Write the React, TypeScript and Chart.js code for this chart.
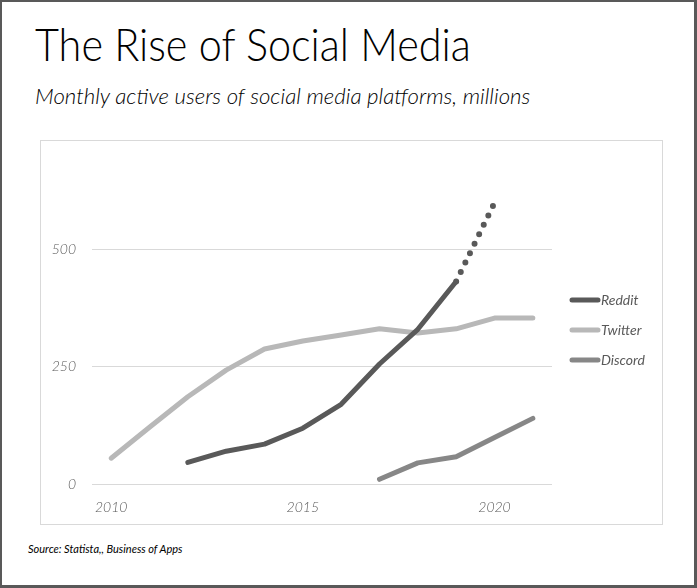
import React, { useEffect, useRef } from "react";
import { Chart, registerables } from "chart.js";

Chart.register(...registerables);

const years = ["2010", "2011", "2012", "2013", "2014", "2015", "2016", "2017", "2018", "2019", "2020", "2021"];
const labeledYears = ["2010", "2015", "2020"];
const reddit = [null, null, 46, 70, 85, 119, 170, 256, 330, 432, 600, null];
const twitter = [55, 121, 186, 243, 288, 305, 318, 331, 322, 331, 354, 354];
const discord = [null, null, null, null, null, null, null, 10, 45, 58, 99, 140];
const seriesNames = ["Reddit", "Twitter", "Discord"];
const seriesColors = ["#595959", "#b8b8b8", "#878787"];
const yTicks = [0, 250, 500];
const projectedFromIndex = 9; // Reddit 2019 -> 2020 shown dotted

const FONT = "Lato, 'Open Sans', sans-serif";

const sideLegend = {
  id: "sideLegend",
  afterDraw(chart: any) {
    const ctx = chart.ctx;
    const x0 = chart.chartArea.right + 18;
    chart.data.datasets.forEach((ds: any, i: number) => {
      const y = 160 + i * 30;
      ctx.save();
      ctx.strokeStyle = ds.borderColor;
      ctx.lineWidth = 5;
      ctx.lineCap = "round";
      ctx.beginPath();
      ctx.moveTo(x0 + 2, y);
      ctx.lineTo(x0 + 28, y);
      ctx.stroke();
      ctx.fillStyle = "#595959";
      ctx.font = `italic 400 14px ${FONT}`;
      ctx.textBaseline = "middle";
      ctx.textAlign = "left";
      ctx.fillText(ds.label, x0 + 31, y);
      ctx.restore();
    });
  },
};

export default function App() {
  const ref = useRef<HTMLCanvasElement | null>(null);

  useEffect(() => {
    if (!ref.current) return;
    const data = [reddit, twitter, discord];
    const chart = new Chart(ref.current, {
      type: "line",
      data: {
        labels: years,
        datasets: seriesNames.map((name, i) => ({
          label: name,
          data: data[i],
          borderColor: seriesColors[i],
          backgroundColor: seriesColors[i],
          borderWidth: 5,
          borderCapStyle: "round",
          borderJoinStyle: "round",
          pointRadius: 0,
          pointHoverRadius: 0,
          tension: 0,
          spanGaps: false,
          clip: false,
          segment:
            i === 0
              ? {
                  borderDash: (c: any) => (c.p0DataIndex >= projectedFromIndex ? [0, 10.5] : undefined),
                  borderWidth: (c: any) => (c.p0DataIndex >= projectedFromIndex ? 6 : undefined),
                }
              : undefined,
        })) as any,
      },
      options: {
        responsive: false,
        animation: false,
        layout: { padding: { top: 51, right: 110, bottom: 0, left: 0 } },
        plugins: { legend: { display: false }, tooltip: { enabled: false }, title: { display: false } },
        scales: {
          x: {
            type: "category",
            offset: true,
            grid: { display: false, drawTicks: false },
            border: { display: false },
            ticks: {
              autoSkip: false,
              maxRotation: 0,
              padding: 15,
              color: "#595959",
              font: { family: FONT, size: 14, style: "italic", weight: "300" },
              callback: (_v: any, idx: number) => (labeledYears.includes(years[idx]) ? years[idx] : ""),
            },
            afterFit: (s: any) => {
              s.height = 40;
            },
          },
          y: {
            min: 0,
            max: 625,
            grid: { color: "#d9d9d9", lineWidth: 1, drawTicks: false },
            border: { display: false },
            afterBuildTicks: (s: any) => {
              s.ticks = yTicks.map((v) => ({ value: v }));
            },
            ticks: {
              padding: 16,
              color: "#595959",
              font: { family: FONT, size: 14, style: "italic", weight: "300" },
            },
            afterFit: (s: any) => {
              s.width = 52;
            },
          },
        },
      },
      plugins: [sideLegend],
    });
    return () => chart.destroy();
  }, []);

  return (
    <div
      style={{
        position: "absolute",
        left: 0,
        top: 0,
        width: 697,
        height: 588,
        boxSizing: "border-box",
        borderStyle: "solid",
        borderColor: "#595959",
        borderWidth: "2px 3px 3px 2px",
        background: "#fff",
        overflow: "hidden",
      }}
    >
      <div
        style={{
          position: "absolute",
          left: 33,
          top: 14,
          fontFamily: FONT,
          fontSize: 46,
          fontWeight: 300,
          lineHeight: "56px",
          color: "#000",
          whiteSpace: "nowrap",
          transformOrigin: "left top",
          transform: "scaleX(0.9)",
        }}
      >
        The Rise of Social Media
      </div>
      <div
        style={{
          position: "absolute",
          left: 33,
          top: 80,
          fontFamily: FONT,
          fontSize: 22,
          fontWeight: 300,
          fontStyle: "italic",
          lineHeight: "28px",
          color: "#000",
          whiteSpace: "nowrap",
          transformOrigin: "left top",
          transform: "scaleX(1.01)",
        }}
      >
        Monthly active users of social media platforms, millions
      </div>
      <div
        style={{
          position: "absolute",
          left: 38,
          top: 138,
          width: 623,
          height: 385,
          boxSizing: "border-box",
          border: "1px solid #d9d9d9",
        }}
      />
      <canvas
        ref={ref}
        width={622}
        height={384}
        style={{ position: "absolute", left: 38, top: 138, width: 622, height: 384 }}
      />
      <div
        style={{
          position: "absolute",
          left: 26,
          top: 540,
          fontFamily: FONT,
          fontSize: 11,
          fontWeight: 400,
          fontStyle: "italic",
          color: "#000",
          whiteSpace: "nowrap",
        }}
      >
        Source: Statista,, Business of Apps
      </div>
    </div>
  );
}
